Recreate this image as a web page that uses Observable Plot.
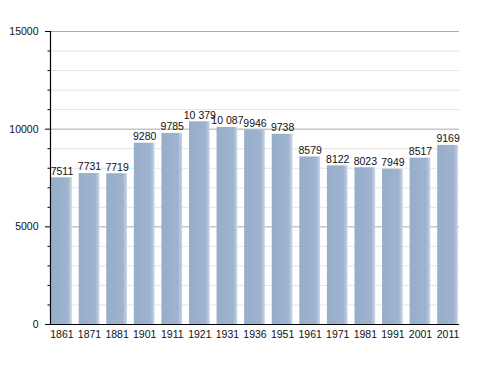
<!DOCTYPE html>
<html><head><meta charset="utf-8">
<script src="https://cdn.jsdelivr.net/npm/d3@7"></script>
<script src="https://cdn.jsdelivr.net/npm/@observablehq/plot@0.6"></script>
<style>
body{margin:0;background:#fff;}
svg{font-family:"Liberation Sans",Arial,sans-serif;}
</style></head>
<body><div id="chart"></div>
<script>
const years = ["1861","1871","1881","1901","1911","1921","1931","1936","1951","1961","1971","1981","1991","2001","2011"];
const population = [7511,7731,7719,9280,9785,10379,10087,9946,9738,8579,8122,8023,7949,8517,9169];
const valueLabels = ["7511","7731","7719","9280","9785","10 379","10 087","9946","9738","8579","8122","8023","7949","8517","9169"];
const majorTicks = [0,5000,10000,15000];
const minorTicks = d3.range(1000,15000,1000).filter(d => d % 5000 !== 0);

const data = years.map((y,i) => ({year:y, pop:population[i], label:valueLabels[i]}));

const chart = Plot.plot({
  width: 488, height: 373,
  marginLeft: 50, marginRight: 29, marginTop: 31, marginBottom: 49,
  style: {fontSize: "10.5px", fontFamily: "'Liberation Sans', Arial, sans-serif", color: "#111", background: "#fff"},
  x: {domain: years, paddingInner: 0.25, paddingOuter: 0.04, round: false, label: null},
  y: {domain: [0,15000], label: null},
  marks: [
    Plot.ruleY(minorTicks, {stroke: "#e4e4e4", strokeWidth: 1}),
    Plot.ruleY([5000,10000,15000], {stroke: "#ababab", strokeWidth: 1}),
    Plot.barY(data, {x: "year", y: "pop", fill: "url(#barGrad)"}),
    Plot.text(data, {x: "year", y: "pop", text: "label", lineAnchor: "bottom", dy: -3, fill: "#111", fontSize: 10.5}),
    Plot.axisY(majorTicks, {tickSize: 5, tickPadding: 7, label: null, tickFormat: d => String(d), stroke: "#000"}),
    Plot.axisY(minorTicks, {tickSize: 2.5, tickFormat: () => "", label: null, stroke: "#000"}),
    Plot.axisX({tickSize: 0, tickPadding: 6, label: null}),
    Plot.ruleY([0], {stroke: "#000", strokeWidth: 1.2}),
    Plot.frame({anchor: "left", stroke: "#000", strokeWidth: 1.2})
  ]
});

const ns = "http://www.w3.org/2000/svg";
const defs = document.createElementNS(ns, "defs");
defs.innerHTML = `<linearGradient id="barGrad" x1="0" x2="1" y1="0" y2="0">
  <stop offset="0%" stop-color="#97aeca"/>
  <stop offset="80%" stop-color="#9db3cf"/>
  <stop offset="100%" stop-color="#c9d6e6"/>
</linearGradient>`;
chart.insertBefore(defs, chart.firstChild);
document.getElementById("chart").appendChild(chart);
</script></body></html>
